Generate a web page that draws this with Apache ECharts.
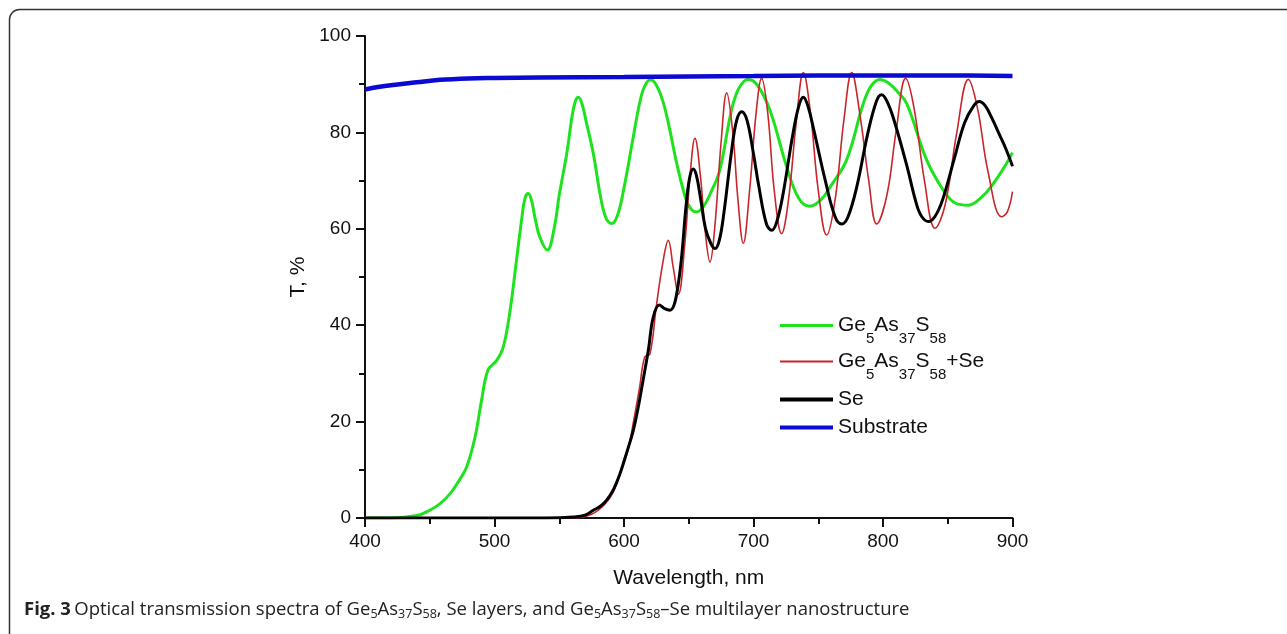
<!DOCTYPE html>
<html>
<head>
<meta charset="utf-8">
<script src="https://cdn.jsdelivr.net/npm/echarts@6/dist/echarts.min.js"></script>
<style>
  html, body { margin: 0; padding: 0; background: #fff; }
  #chart { width: 1287px; height: 634px; }
</style>
</head>
<body>
<div id="chart"></div>
<script>
// wavelength (nm) / transmission (%)
const geCurve = [
  [400, 0], [420, 0], [440, 0.5], [450, 1.6], [458, 3], [465.6, 5], [472, 7.5], [478.5, 10.6],
  [485, 16.8], [490, 24.4], [495, 30.7], [501.7, 32.7], [506.8, 35.5], [512, 43], [517, 53.5],
  [521, 62], [523.5, 66.3], [526, 67.3], [528.5, 66], [531.5, 62], [535, 58.3], [540.8, 55.6],
  [546, 60], [550, 67], [555.8, 75.6], [560, 83.5], [562.5, 86.5], [564.7, 87.3], [567.5, 86],
  [571, 82], [576.3, 75.6], [582, 66.5], [586, 62.3], [590.5, 61.1], [595, 62.8], [600, 68.5],
  [607.2, 79.1], [612, 86], [616, 89.6], [620.6, 90.9], [625, 89.8], [630, 86.5], [635, 81],
  [640.7, 73.6], [648, 66], [652, 64], [656, 63.5], [661, 64.5], [667, 67.5], [674, 72.2],
  [683, 84.6], [689, 89.3], [696, 91], [703, 89.8], [712.7, 84.6], [725.6, 72.9], [735, 66.3],
  [743.6, 64.7], [752, 66], [760, 69], [771.9, 74.3], [784.8, 86], [791, 89.7], [797.7, 91],
  [804, 90.3], [811, 88.5], [818.3, 86], [833.7, 74.3], [846.6, 68], [856, 65.3],
  [865.9, 64.9], [876, 66.5], [885.2, 69.4], [893, 72.5], [900, 75.8]
];
const geSeCurve = [
  [400, 0], [520, 0], [560, 0], [575, 0.8], [585, 2.8], [592, 5.5], [598, 10], [603, 14],
  [608, 21], [612, 27], [616, 33.4], [620, 34], [625, 44], [630, 53], [634.2, 57.6], [638, 52],
  [642, 46.4], [647, 57], [651, 71], [654.8, 78.8], [659, 71], [662.5, 60], [666.4, 53.1],
  [670, 60], [675, 78], [679.3, 88.2], [684, 80], [688, 66], [692.1, 57], [697, 68], [702, 84],
  [706.3, 91.2], [711, 84], [716, 68], [721.7, 59], [727, 66], [733, 82], [738.5, 92.4],
  [744, 84], [750, 68], [756.5, 58.7], [763, 66], [770, 83], [775.8, 92.4], [782, 84],
  [789, 70], [795.1, 61], [803, 67], [810, 80], [817.5, 91.2], [824, 85], [832, 70],
  [840.2, 60.1], [848, 65], [857, 80], [865.9, 91], [873, 85], [881, 72], [891.6, 62.5],
  [896, 63.5], [900, 67.7]
];
const seCurve = [
  [400, 0], [500, 0], [540, 0], [561, 0.2], [570, 0.6], [576.3, 1.6], [582, 2.5], [586.6, 3.7],
  [592, 6], [596.9, 9.2], [602, 13.5], [607.2, 18.2], [611, 23], [615, 29], [618.8, 34.8],
  [622.6, 41.7], [627.3, 44.2], [631, 43.5], [635.5, 43.1], [642, 48.7], [648.4, 66],
  [651, 71], [653.5, 72.4], [656, 71], [659, 66.5], [663, 60], [667, 57], [670.3, 55.9],
  [673.5, 57.5], [677, 63], [683, 76], [687, 82.5], [690.9, 84.3], [695, 82.5], [700, 75.5],
  [704, 69], [710, 61], [714.1, 59.7], [718, 61.5], [723, 67.5], [730, 79], [735, 85.5],
  [738.5, 87.3], [742, 85.5], [747, 80], [755, 70.5], [763, 62.5], [768.1, 61], [773, 62.5],
  [780, 69], [788, 79.5], [795, 86.5], [799, 87.8], [803, 86.5], [808, 83], [818, 73.5],
  [826, 65], [830, 62.5], [835, 61.5], [840, 62.5], [846, 66], [855, 74.5], [863, 82],
  [870, 85.5], [874.3, 86.4], [879, 85.5], [884, 83], [890, 79.5], [895, 76.5], [900, 73]
];
const substrateCurve = [
  [400, 88.9], [410, 89.4], [420, 89.8], [440, 90.4], [458, 90.9], [480, 91.2], [500, 91.3],
  [535, 91.4], [600, 91.5], [650, 91.6], [700, 91.7], [750, 91.8], [800, 91.8], [850, 91.8],
  [900, 91.7]
];
const seriesNames = ["Ge5As37S58", "Ge5As37S58+Se", "Se", "Substrate"];
const seriesColors = ["#1fe21f", "#c8262a", "#000000", "#0a0ad0"];
const seriesWidths = [3, 1.6, 3, 4.5];
const legendTops = [315, 351, 389, 417];
const legendHeights = [3, 2, 4, 4];

const chart = echarts.init(document.getElementById("chart"));
const font = "Liberation Sans, Arial, sans-serif";

const richLegend = {
  m: { fontSize: 21, fontFamily: font, color: "#111" },
  s: { fontSize: 15, fontFamily: font, color: "#111", padding: [26, 0, 0, 0] },
};
function legendText(name) {
  if (name === "Ge5As37S58") return "{m|Ge}{s|5}{m|As}{s|37}{m|S}{s|58}";
  if (name === "Ge5As37S58+Se") return "{m|Ge}{s|5}{m|As}{s|37}{m|S}{s|58}{m|+Se}";
  return "{m|" + name + "}";
}

const curves = [geCurve, geSeCurve, seCurve, substrateCurve];

const option = {
  backgroundColor: "#fff",
  animation: false,
  grid: { left: 365, right: 274.5, top: 36, bottom: 116 },
  xAxis: {
    type: "value",
    min: 400,
    max: 900,
    interval: 100,
    name: "Wavelength, nm",
    nameLocation: "middle",
    nameGap: 50,
    nameTextStyle: { fontSize: 21, fontFamily: font, color: "#111" },
    axisLine: { show: true, lineStyle: { color: "#111", width: 2 } },
    axisTick: { show: true, length: 9, lineStyle: { color: "#111", width: 2 } },
    minorTick: { show: true, splitNumber: 2, length: 6, lineStyle: { color: "#111", width: 2 } },
    axisLabel: { fontSize: 19, fontFamily: font, color: "#111", margin: 14 },
    splitLine: { show: false },
  },
  yAxis: {
    type: "value",
    min: 0,
    max: 100,
    interval: 20,
    name: "T, %",
    nameLocation: "middle",
    nameGap: 47,
    nameTextStyle: { fontSize: 21, fontFamily: font, color: "#111" },
    axisLine: { show: true, lineStyle: { color: "#111", width: 2 } },
    axisTick: { show: true, length: 9, lineStyle: { color: "#111", width: 2 } },
    minorTick: { show: true, splitNumber: 2, length: 6, lineStyle: { color: "#111", width: 2 } },
    axisLabel: { fontSize: 19, fontFamily: font, color: "#111", margin: 14 },
    splitLine: { show: false },
  },
  legend: seriesNames.map((n, i) => ({
    data: [n],
    left: 780,
    top: legendTops[i],
    padding: 0,
    itemWidth: 53,
    itemHeight: legendHeights[i],
    icon: "rect",
    selectedMode: false,
    formatter: legendText,
    textStyle: { rich: richLegend },
  })),
  series: curves.map((c, i) => ({
    name: seriesNames[i],
    type: "line",
    data: c,
    smooth: 0.4,
    showSymbol: false,
    symbol: "none",
    color: seriesColors[i],
    lineStyle: { color: seriesColors[i], width: seriesWidths[i] },
  })),
  graphic: [
    {
      type: "rect",
      shape: { x: 9.5, y: 9.5, width: 1400, height: 800, r: 10 },
      style: { fill: "none", stroke: "#333", lineWidth: 1.5 },
      silent: true,
    },
    {
      type: "text",
      left: 24,
      top: 600,
      style: {
        text: "{b|Fig. 3} {n|Optical transmission spectra of Ge}{s|5}{n|As}{s|37}{n|S}{s|58}{n|, Se layers, and Ge}{s|5}{n|As}{s|37}{n|S}{s|58}{n|–Se multilayer nanostructure}",
        rich: {
          b: { fontSize: 18.5, fontWeight: "bold", fontFamily: "Open Sans, sans-serif", fill: "#222" },
          n: { fontSize: 18.5, fontFamily: "Open Sans, sans-serif", fill: "#222" },
          s: { fontSize: 12.5, fontFamily: "Open Sans, sans-serif", fill: "#222", padding: [9, 0, 0, 0] },
        },
      },
    },
  ],
};
chart.setOption(option);
</script>
</body>
</html>
